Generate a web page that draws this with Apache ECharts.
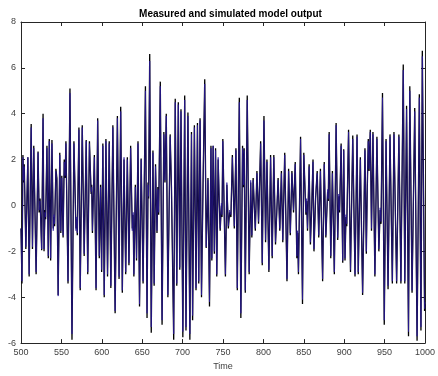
<!DOCTYPE html>
<html>
<head>
<meta charset="utf-8">
<script src="https://cdn.jsdelivr.net/npm/echarts@6/dist/echarts.min.js"></script>
<style>
html,body{margin:0;padding:0;background:#fff;}
#chart{width:438px;height:376px;}
</style>
</head>
<body>
<div id="chart"></div>
<script>
const titleText = 'Measured and simulated model output';
const xAxisName = 'Time';
const xTicks = [500, 550, 600, 650, 700, 750, 800, 850, 900, 950, 1000];
const yTicks = [-6, -4, -2, 0, 2, 4, 6, 8];

const time = [
  500, 501.2, 502.4, 503.2, 504, 506, 508.5, 510.1, 512.6, 514.2,
  515.8, 518.7, 521.1, 522.4, 523.6, 525.6, 527.3, 528.5, 529.7, 530.5,
  532.1, 533.8, 535, 536.7, 538.3, 539.9, 540.8, 541.6, 543.2, 544.4,
  546, 548, 549.3, 550.5, 552.1, 553.5, 554.6, 555.6, 558.2, 560.6,
  563.1, 565.5, 568, 569, 569.7, 571.7, 573.3, 575.8, 578.2, 580.7,
  582.6, 584.7, 586.8, 587.5, 588.4, 590.8, 592.9, 594.9, 596.9, 598.5,
  599.8, 601.3, 603, 605.1, 607.1, 609.2, 611.2, 613.7, 616.5, 619.3,
  621.4, 623.4, 625.4, 627.5, 629.6, 631.6, 633.6, 635.7, 637.7, 638.8,
  639.7, 641.5, 643, 644.8, 646.7, 648.7, 651.1, 654, 656, 657.2,
  657.9, 659.3, 661.2, 663.3, 664.8, 666.5, 668.3, 669.4, 670.4, 672.4,
  674.6, 676.8, 678.2, 679.8, 681.8, 684.6, 686.2, 689.0, 690.9, 692.8,
  694.7, 696.5, 698, 700.3, 702.6, 704.2, 706.6, 709, 711, 712.4,
  714.6, 716.6, 718.4, 720, 721.6, 723.4, 725.3, 727.4, 729.2, 730.5,
  731.4, 733.3, 735.1, 736.2, 737.8, 739.3, 740.8, 742.3, 744, 745.4,
  746.5, 748, 748.8, 749.8, 753, 754.8, 756.6, 758.2, 759.8, 761.6,
  764, 766, 767.7, 770.2, 772.1, 774.2, 775.3, 776.2, 777.6, 780,
  782.4, 784.3, 785.7, 787.3, 790, 792, 794, 796.6, 798.6, 800.7,
  802.7, 804.4, 806.8, 808.9, 810.9, 812.9, 815, 818.2, 820.3, 822.3,
  824, 826.4, 829.2, 831.2, 833.3, 835.3, 837.3, 839.4, 841.4, 842.3,
  843.4, 846, 848.4, 850, 852.6, 853.6, 854.6, 856.6, 858.2, 859.7,
  861.4, 862.6, 864.6, 866.6, 868.5, 870.6, 873.3, 875.3, 877.3, 879.5,
  880.3, 881.4, 883.4, 885.4, 887.8, 890, 892, 893.3, 894.3, 896.2,
  898.2, 899.4, 901, 902.2, 903.2, 905.4, 907.8, 910.6, 913.4, 915.9,
  917.4, 920, 922.8, 925.7, 927.4, 928.6, 929.8, 930.8, 932.3, 933.8,
  935.6, 938, 940.5, 942.9, 944.5, 945.6, 947.4, 949.6, 951.8, 954.3,
  956.7, 959.6, 961.6, 964.9, 967.7, 970.2, 973.1, 975, 977.2, 979.6,
  981.2, 984, 987.3, 990.2, 993, 995, 996.7, 999.5, 1000
];

const measured = [
  -1.0, -3.4, 2.2, 1.0, 1.8, -1.9, 2.1, -3.1, 3.55, -1.9,
  2.6, -3.0, 2.35, -0.3, 0.3, -1.95, 4.0, -2.0, -0.2, -0.6,
  2.6, -2.3, 2.9, -2.4, 2.85, -1.0, -0.5, -0.9, 1.6, 1.2,
  -3.9, 2.3, -1.2, 1.3, -1.4, 2.0, 1.2, 2.8, -3.4, 5.1,
  -5.85, 2.8, -1.0, -0.6, -1.3, 3.4, -3.7, 3.5, -2.2, 2.85,
  -3.0, 2.8, 0.5, 0.9, -1.2, 2.2, -3.7, 3.8, -2.3, 0.9,
  -2.9, 2.7, -4.0, 2.9, -3.1, 2.8, -3.6, 3.5, -4.7, 3.9,
  -3.2, 4.3, -3.8, 2.0, -3.0, 2.1, -2.6, 2.6, -1.0, -0.4,
  -3.1, 0.9, -2.4, 2.8, -4.4, 2.05, -3.4, 5.2, -4.9, 1.0,
  0.3, 6.6, -5.55, 2.4, -3.5, 1.8, -1.2, 0.8, -0.4, 5.4,
  -5.2, 3.2, 1.0, 4.0, -4.0, 3.1, 0.8, -5.85, 4.65, -3.5,
  4.5, -2.8, 4.2, -5.75, 4.8, -5.45, 4.05, -5.85, 3.2, -5.0,
  3.5, -3.7, 3.6, -3.4, 3.8, -4.0, 0.9, 5.5, -1.85, -0.3,
  1.2, -4.4, 2.6, -2.4, 2.6, -2.1, 2.5, -3.1, 2.0, 0.1,
  -1.1, 0.0, -0.5, 2.9, -3.1, 0.9, -1.0, -0.3, -0.5, 2.2,
  -1.0, 2.5, -3.7, 4.7, -4.9, 2.6, 0.8, 2.5, -3.8, 4.8,
  -3.0, 1.0, -1.4, 1.2, -1.1, 1.5, -0.8, 2.8, -2.6, 3.9,
  -1.6, 2.0, -2.9, 2.2, -2.3, 2.2, -1.7, 1.2, -1.1, 1.5,
  -1.6, 2.3, -3.3, 1.6, -1.3, 1.5, -0.3, 1.9, -2.3, -1.2,
  -3.0, 3.0, -4.3, 2.3, -0.4, 0.2, -1.1, 1.8, -1.7, -0.2,
  2.0, -2.0, 0.3, 1.5, -1.4, 1.6, -3.3, 1.9, -1.4, 0.6,
  0.2, 3.2, -2.3, 1.5, -3.0, 3.6, -1.5, 0.4, -0.3, 2.7,
  -2.5, 2.45, -2.4, -0.5, -0.9, 3.3, -2.9, 3.05, -3.1, 3.1,
  -3.0, 2.1, -3.9, 2.5, -2.1, 0.8, 2.9, 1.5, 3.3, -1.1,
  3.2, -3.1, 3.0, -2.0, -0.2, -0.8, 4.9, -5.2, 2.9, -3.65,
  3.1, -3.4, 3.2, -3.4, 3.1, -3.4, 6.15, -3.4, 4.35, -5.7,
  5.2, -3.8, 4.25, -5.9, 4.85, -5.45, 6.75, -4.6, -4.3
];

const simulated = [
  -1.0, -3.3, 2.1, 1.1, 1.7, -1.8, 2.1, -3.0, 3.4, -1.8,
  2.5, -2.9, 2.3, -0.2, 0.2, -1.9, 3.8, -1.9, -0.3, -0.5,
  2.5, -2.2, 2.8, -2.3, 2.7, -1.1, -0.4, -0.8, 1.5, 1.1,
  -3.95, 2.2, -1.1, 1.2, -1.3, 1.9, 1.3, 2.7, -3.3, 4.9,
  -5.6, 2.7, -1.1, -0.5, -1.2, 3.3, -3.6, 3.4, -2.1, 2.8,
  -2.9, 2.7, 0.6, 0.8, -1.1, 2.1, -3.6, 3.7, -2.2, 0.8,
  -2.8, 2.6, -3.9, 2.8, -3.0, 2.7, -3.5, 3.4, -4.6, 3.8,
  -3.1, 4.1, -3.7, 2.1, -2.9, 2.0, -2.5, 2.5, -1.1, -0.3,
  -3.0, 0.8, -2.3, 2.7, -4.3, 2.0, -3.3, 5.0, -4.7, 0.9,
  0.4, 6.3, -5.3, 2.3, -3.4, 1.7, -1.1, 0.7, -0.3, 5.2,
  -5.0, 3.1, 1.1, 3.9, -3.9, 3.0, 0.9, -5.6, 4.5, -3.4,
  4.4, -2.7, 4.1, -5.5, 4.6, -5.3, 3.9, -5.6, 3.1, -4.8,
  3.4, -3.6, 3.5, -3.3, 3.7, -3.9, 1.0, 5.3, -1.8, -0.2,
  1.1, -4.2, 2.5, -2.3, 2.6, -2.0, 2.4, -3.0, 2.1, 0.2,
  -1.0, 0.1, -0.4, 2.8, -3.0, 1.0, -0.9, -0.2, -0.4, 2.1,
  -0.9, 2.4, -3.6, 4.5, -4.7, 2.5, 0.9, 2.4, -3.7, 4.6,
  -2.9, 1.1, -1.3, 1.1, -1.0, 1.4, -0.7, 2.7, -2.5, 3.7,
  -1.5, 1.9, -2.8, 2.1, -2.2, 2.1, -1.6, 1.1, -1.0, 1.4,
  -1.5, 2.2, -3.2, 1.5, -1.2, 1.4, -0.2, 1.8, -2.2, -1.1,
  -2.9, 2.9, -4.1, 2.2, -0.3, 0.3, -1.0, 1.7, -1.6, -0.1,
  1.9, -1.9, 0.4, 1.4, -1.3, 1.5, -3.2, 1.8, -1.3, 0.7,
  0.3, 3.1, -2.2, 1.4, -2.9, 3.5, -1.4, 0.5, -0.2, 2.6,
  -2.4, 2.4, -2.3, -0.4, -0.8, 3.2, -2.8, 2.9, -3.0, 3.0,
  -2.9, 2.0, -3.8, 2.4, -2.0, 0.9, 2.8, 1.6, 3.2, -1.0,
  3.1, -3.0, 2.9, -1.9, -0.1, -0.7, 4.7, -5.0, 2.8, -3.5,
  3.0, -3.3, 3.1, -3.3, 3.0, -3.3, 5.9, -3.3, 4.2, -5.5,
  5.0, -3.7, 4.1, -5.7, 4.7, -5.3, 6.5, -4.5, -4.2
];

const measuredData = time.map((t, i) => [t, measured[i]]);
const simulatedData = time.map((t, i) => [t, simulated[i]]);

const axisColor = '#262626';
const labelColor = '#404040';
const font = 'Liberation Sans, Arial, Helvetica, sans-serif';

const chart = echarts.init(document.getElementById('chart'), null, {renderer: 'canvas'});
chart.setOption({
  animation: false,
  backgroundColor: '#ffffff',
  title: {
    text: titleText,
    left: 225.5,
    textAlign: 'center',
    top: 4,
    textStyle: {fontSize: 10, fontWeight: 'bold', color: '#000', fontFamily: font}
  },
  grid: {left: 21, right: 8, top: 22, bottom: 30, containLabel: false},
  xAxis: [{
    type: 'value', min: 500, max: 1000, interval: 50, position: 'bottom',
    name: xAxisName, nameLocation: 'middle', nameGap: 17,
    nameTextStyle: {fontSize: 9, color: labelColor, fontFamily: font},
    axisLine: {show: true, onZero: false, lineStyle: {color: axisColor, width: 1}},
    axisTick: {show: true, inside: true, length: 4, lineStyle: {color: axisColor}},
    axisLabel: {fontSize: 9, color: labelColor, margin: 5, fontFamily: font,
      formatter: v => xTicks.includes(v) ? String(v) : ''},
    splitLine: {show: false}
  }, {
    type: 'value', min: 500, max: 1000, interval: 50, position: 'top',
    axisLine: {show: true, onZero: false, lineStyle: {color: axisColor, width: 1}},
    axisTick: {show: true, inside: true, length: 4, lineStyle: {color: axisColor}},
    axisLabel: {show: false}, splitLine: {show: false}
  }],
  yAxis: [{
    type: 'value', min: -6, max: 8, interval: 2, position: 'left',
    axisLine: {show: true, onZero: false, lineStyle: {color: axisColor, width: 1}},
    axisTick: {show: true, inside: true, length: 4, lineStyle: {color: axisColor}},
    axisLabel: {fontSize: 9, color: labelColor, margin: 5, fontFamily: font,
      formatter: v => yTicks.includes(v) ? String(v) : ''},
    splitLine: {show: false}
  }, {
    type: 'value', min: -6, max: 8, interval: 2, position: 'right',
    axisLine: {show: true, onZero: false, lineStyle: {color: axisColor, width: 1}},
    axisTick: {show: true, inside: true, length: 4, lineStyle: {color: axisColor}},
    axisLabel: {show: false}, splitLine: {show: false}
  }],
  series: [{
    name: 'Measured', type: 'line', data: measuredData, showSymbol: false,
    xAxisIndex: 0, yAxisIndex: 0,
    lineStyle: {color: '#000000', width: 1.3}, z: 2
  }, {
    name: 'Simulated', type: 'line', data: simulatedData, showSymbol: false,
    xAxisIndex: 0, yAxisIndex: 0,
    lineStyle: {color: '#2a1a9a', width: 1, opacity: 0.75}, z: 3
  }]
});
</script>
</body>
</html>
